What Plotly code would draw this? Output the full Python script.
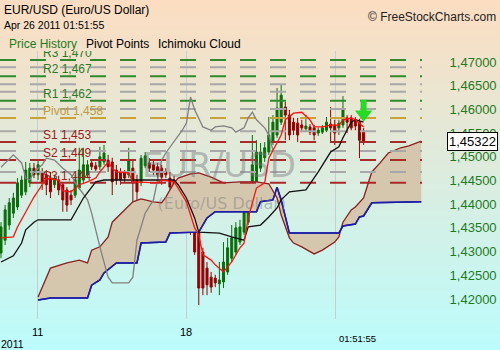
import plotly.graph_objects as go

# ---------------- data ----------------
bar = list(range(89))
opens = [1.4297,1.4324,1.4356,1.4381,1.4394,1.4419,1.4426,1.4445,1.4476,1.4462,
         1.4468,1.4462,1.4455,1.4441,1.4451,1.4441,1.4430,1.4419,1.4419,1.4434,
         1.4451,1.4462,1.4487,1.4481,1.4479,1.4489,1.4493,1.4489,1.4472,1.4468,
         1.4466,1.4462,1.4476,1.4451,1.4445,1.4481,1.4487,1.4483,1.4479,1.4476,
         1.4468,1.4455,1.4451,1.4445,1.4424,1.4413,1.4394,1.4377,1.4341,1.4299,
         1.4265,1.4246,1.4244,1.4232,1.4236,1.4257,1.4286,1.4299,1.4320,1.4341,
         1.4362,1.4405,1.4441,1.4476,1.4498,1.4510,1.4531,1.4546,1.4573,1.4605,
         1.4588,1.4573,1.4571,1.4567,1.4559,1.4563,1.4561,1.4550,1.4552,1.4556,
         1.4569,1.4567,1.4561,1.4567,1.4582,1.4582,1.4578,1.4573,1.4554]
highs = [1.4362,1.4398,1.4413,1.4424,1.4455,1.4460,1.4489,1.4487,1.4487,1.4493,
         1.4476,1.4472,1.4468,1.4462,1.4460,1.4447,1.4436,1.4430,1.4462,1.4519,
         1.4519,1.4493,1.4493,1.4489,1.4521,1.4525,1.4504,1.4498,1.4483,1.4476,
         1.4472,1.4519,1.4493,1.4462,1.4504,1.4510,1.4497,1.4493,1.4487,1.4483,
         1.4476,1.4468,1.4460,1.4451,1.4434,1.4426,1.4409,1.4394,1.4350,1.4308,
         1.4278,1.4257,1.4251,1.4278,1.4320,1.4329,1.4356,1.4362,1.4367,1.4434,
         1.4441,1.4546,1.4535,1.4529,1.4531,1.4584,1.4588,1.4645,1.4652,1.4616,
         1.4599,1.4582,1.4582,1.4578,1.4588,1.4569,1.4567,1.4561,1.4567,1.4584,
         1.4605,1.4578,1.4578,1.4628,1.4588,1.4588,1.4584,1.4580,1.4561]
lows = [1.4286,1.4314,1.4346,1.4371,1.4388,1.4413,1.4419,1.4436,1.4455,1.4451,
        1.4430,1.4419,1.4413,1.4434,1.4419,1.4384,1.4384,1.4398,1.4413,1.4430,
        1.4445,1.4455,1.4472,1.4468,1.4472,1.4483,1.4468,1.4419,1.4441,1.4441,
        1.4447,1.4455,1.4388,1.4371,1.4438,1.4476,1.4468,1.4462,1.4455,1.4441,
        1.4455,1.4426,1.4415,1.4409,1.4352,1.4346,1.4335,1.4293,1.4187,1.4208,
        1.4208,1.4213,1.4225,1.4208,1.4223,1.4251,1.4278,1.4293,1.4314,1.4335,
        1.4356,1.4398,1.4434,1.4468,1.4489,1.4504,1.4525,1.4540,1.4567,1.4535,
        1.4535,1.4546,1.4531,1.4552,1.4552,1.4546,1.4535,1.4544,1.4548,1.4552,
        1.4531,1.4525,1.4546,1.4561,1.4550,1.4556,1.4556,1.4497,1.4525]
closes = [1.4352,1.4388,1.4403,1.4413,1.4445,1.4451,1.4472,1.4476,1.4462,1.4483,
          1.4447,1.4441,1.4426,1.4455,1.4430,1.4409,1.4398,1.4409,1.4451,1.4472,
          1.4483,1.4483,1.4479,1.4474,1.4500,1.4508,1.4479,1.4447,1.4451,1.4451,
          1.4455,1.4493,1.4445,1.4426,1.4497,1.4502,1.4476,1.4472,1.4462,1.4457,
          1.4462,1.4436,1.4424,1.4415,1.4384,1.4381,1.4341,1.4299,1.4223,1.4223,
          1.4230,1.4225,1.4234,1.4240,1.4278,1.4308,1.4329,1.4350,1.4352,1.4413,
          1.4413,1.4483,1.4510,1.4510,1.4519,1.4546,1.4573,1.4603,1.4630,1.4588,
          1.4546,1.4556,1.4546,1.4561,1.4565,1.4552,1.4546,1.4556,1.4561,1.4573,
          1.4561,1.4550,1.4571,1.4599,1.4573,1.4561,1.4565,1.4535,1.45322]

# Ichimoku lines (bar index, price)
tenkan_x = [0,3,4,6,8,10,11,14,15,17,19,21,23,24,26,27,28,31,32,38,39,42,43,45,47,48,49,51,52,54,
            56,58,59,60,62,64,65,68,69,71,73,75,76,78,80,82,83,85,86,88]
tenkan_y = [1.4329,1.4331,1.4352,1.4384,1.4415,1.4441,1.4455,1.4451,1.4428,1.4426,1.4441,1.4447,
            1.4455,1.4468,1.4489,1.4476,1.4468,1.4466,1.4447,1.4445,1.4451,1.4447,1.4434,1.4405,
            1.4350,1.4335,1.4293,1.4282,1.4272,1.4257,1.4278,1.4308,1.4318,1.4371,1.4434,1.4445,
            1.4497,1.4546,1.4578,1.4592,1.4594,1.4578,1.4563,1.4563,1.4567,1.4567,1.4578,1.4582,
            1.4578,1.4563]
kijun_x = [0,3,5,6,8,9,17,19,20,23,25,42,43,45,47,48,53,56,59,60,63,65,67,68,70,74,77,80,82,83,85,86,88]
kijun_y = [1.4278,1.4291,1.4318,1.4346,1.4362,1.4367,1.4367,1.4398,1.4413,1.4447,1.4451,1.4451,
           1.4441,1.4413,1.4371,1.4341,1.4339,1.4331,1.4324,1.4352,1.4356,1.4373,1.4392,1.4409,
           1.4426,1.4430,1.4468,1.4510,1.4521,1.4540,1.4573,1.4578,1.4573]
chikou_x = [0,3,5,6,7,8,10,11,13,15,17,18,21,22,24,26,27,31,32,33,35,37,38,39,40,42,44,45,46,47,
            48,49,51,52,54,56,57,59,60,61,62,64,65,66]
chikou_y = [1.4478,1.4504,1.4487,1.4455,1.4451,1.4468,1.4483,1.4497,1.4493,1.4476,1.4462,1.4445,
            1.4409,1.4381,1.4310,1.4246,1.4234,1.4234,1.4246,1.4324,1.4381,1.4409,1.4451,1.4493,
            1.4508,1.4531,1.4556,1.4571,1.4626,1.4599,1.4582,1.4563,1.4556,1.4563,1.4565,1.4561,
            1.4552,1.4561,1.4582,1.4594,1.4578,1.4561,1.4546,1.4514]
spanA_x = [9,12,16,19,21,22,24,26,27,30,32,34,37,39,40,42,43,46,48,51,54,58,62,65,67,68,70,71,73,
           76,78,81,82,83,85,86,88,89,90,92,94,97,99,102]
spanA_y = [1.4204,1.4265,1.4276,1.4282,1.4276,1.4303,1.4310,1.4331,1.4362,1.4388,1.4405,1.4411,
           1.4405,1.4403,1.4415,1.4445,1.4455,1.4464,1.4466,1.4457,1.4445,1.4447,1.4447,1.4443,
           1.4413,1.4377,1.4329,1.4318,1.4310,1.4295,1.4303,1.4320,1.4331,1.4362,1.4388,1.4394,
           1.4413,1.4441,1.4468,1.4487,1.4508,1.4519,1.4523,1.4533]
spanB_x = [9,12,21,22,24,25,28,33,34,40,41,48,50,52,62,63,66,67,68,70,82,83,86,87,88,90,102]
spanB_y = [1.4198,1.4202,1.4202,1.4229,1.4240,1.4255,1.4276,1.4276,1.4318,1.4320,1.4339,1.4341,
           1.4371,1.4384,1.4384,1.4405,1.4409,1.4436,1.4409,1.4339,1.4339,1.4354,1.4358,1.4373,
           1.4375,1.4403,1.4405]

# pivot points
pivot_names = ["R3", "R2", "R1", "Pivot", "S1", "S2", "S3"]
pivot_vals = [1.4704, 1.4670, 1.4618, 1.4582, 1.4531, 1.4493, 1.4445]
pivot_text = ["1,470", "1,467", "1,462", "1,458", "1,453", "1,449", "1,444"]
mid_levels = [1.4689, 1.4653, 1.4637, 1.4601, 1.4554, 1.4512, 1.4468]

# axes
y_ticks = [1.42, 1.425, 1.43, 1.435, 1.44, 1.445, 1.45, 1.455, 1.46, 1.465, 1.47]
y_ticktext = ["1,42000", "1,42500", "1,43000", "1,43500", "1,44000", "1,44500",
              "1,45000", "1,45500", "1,46000", "1,46500", "1,47000"]
day_pos = [8.75, 44.9]
day_labels = ["11", "18"]
now_pos = 81.3
now_label = "01:51:55"
year_label = "2011"
last_price = 1.45322
last_text = "1,45322"
signal_bar = 88
signal_head = 1.4590
signal_stem = 1.4607

# ---------------- layout constants ----------------
W, H = 500, 350
ML, MR, MT, MB = 0, 78, 51, 31
PW, PH = W - ML - MR, H - MT - MB
X_RANGE = [-0.2427, 102.18]
Y_RANGE = [1.41577, 1.47232]
FONT = "Liberation Sans, Arial, sans-serif"

def px_x(p):
    return (p - ML) / PW

def px_y(p):
    return (H - MB - p) / PH

GREEN = "#0a6e0a"
RED = "#960000"

fig = go.Figure()

# background gradient strips (peach -> cyan)
shapes = []
n = 70
top = (252, 221, 193)
bot = (188, 252, 252)
for k in range(n):
    t = (k + 0.5) / n
    c = tuple(round(top[j] + (bot[j] - top[j]) * t) for j in range(3))
    y0 = H * k / n
    y1 = H * (k + 1) / n + 0.6
    shapes.append(dict(type="rect", xref="paper", yref="paper", layer="below",
                       x0=px_x(-2), x1=px_x(W + 2), y0=px_y(y1), y1=px_y(y0),
                       line=dict(width=0), fillcolor="rgb(%d,%d,%d)" % c))

# cloud
fig.add_trace(go.Scatter(x=spanB_x, y=spanB_y, mode="lines",
                         line=dict(color="#1c1ca6", width=1.5), hoverinfo="skip"))
fig.add_trace(go.Scatter(x=spanA_x, y=spanA_y, mode="lines", fill="tonexty",
                         fillcolor="rgb(212,199,174)",
                         line=dict(color="#8e1e1e", width=1.3), hoverinfo="skip"))
# redraw span B line on top of fill
fig.add_trace(go.Scatter(x=spanB_x, y=spanB_y, mode="lines",
                         line=dict(color="#1c1ca6", width=1.5), hoverinfo="skip"))

# pivot dashed lines
for lv in mid_levels:
    fig.add_trace(go.Scatter(x=X_RANGE, y=[lv, lv], mode="lines",
                             line=dict(color="#a8a8a8", width=2, dash="16px,14px"),
                             hoverinfo="skip"))
pcolors = []
for name in pivot_names:
    if name.startswith("R"):
        pcolors.append("#2f8a2f")
    elif name.startswith("S"):
        pcolors.append("#a82a2a")
    else:
        pcolors.append("#c9a23c")
for lv, col in zip(pivot_vals, pcolors):
    fig.add_trace(go.Scatter(x=X_RANGE, y=[lv, lv], mode="lines",
                             line=dict(color=col, width=2, dash="16px,14px"),
                             hoverinfo="skip"))
label_col = {"R": "#2a7a2a", "S": "#9a2020", "P": "#c09a40"}
for name, lv, txt in zip(pivot_names, pivot_vals, pivot_text):
    fig.add_trace(go.Scatter(x=[10.2], y=[lv], mode="text", text=["%s %s" % (name, txt)],
                             textposition="top right", cliponaxis=True,
                             textfont=dict(family=FONT, size=12, color=label_col[name[0]]),
                             hoverinfo="skip"))

# watermark
fig.add_trace(go.Scatter(x=[52.9], y=[1.4476], mode="text", text=["EUR/USD"],
                         textfont=dict(family="DejaVu Sans", size=34,
                                       color="rgba(120,120,120,0.45)"),
                         hoverinfo="skip"))
fig.add_trace(go.Scatter(x=[53.6], y=[1.4398], mode="text", text=["(Euro/US Dollar)"],
                         textfont=dict(family="DejaVu Sans", size=16,
                                       color="rgba(120,120,120,0.45)"),
                         hoverinfo="skip"))

# candles
fig.add_trace(go.Candlestick(x=bar, open=opens, high=highs, low=lows, close=closes,
                             increasing=dict(line=dict(color=GREEN, width=1), fillcolor=GREEN),
                             decreasing=dict(line=dict(color=RED, width=1), fillcolor=RED),
                             whiskerwidth=0, hoverinfo="skip"))

# ichimoku lines
fig.add_trace(go.Scatter(x=chikou_x, y=chikou_y, mode="lines",
                         line=dict(color="#808080", width=1.3), hoverinfo="skip"))
fig.add_trace(go.Scatter(x=kijun_x, y=kijun_y, mode="lines",
                         line=dict(color="#111111", width=1.3), hoverinfo="skip"))
fig.add_trace(go.Scatter(x=tenkan_x, y=tenkan_y, mode="lines",
                         line=dict(color="#ff1010", width=1.3), hoverinfo="skip"))

# signal arrow
fig.add_trace(go.Scatter(x=[signal_bar], y=[signal_stem], mode="markers",
                         marker=dict(symbol="line-ns", size=9, line=dict(color="#22dd22", width=6)),
                         hoverinfo="skip"))
fig.add_trace(go.Scatter(x=[signal_bar], y=[signal_head], mode="markers",
                         marker=dict(symbol="triangle-down", size=15, color="#22dd22",
                                     line=dict(width=0)),
                         hoverinfo="skip"))

ann = []
def text_ann(x, y, s, size=12, color="#000", xanchor="left", family=FONT):
    ann.append(dict(xref="paper", yref="paper", x=px_x(x), y=px_y(y), text=s,
                    showarrow=False, xanchor=xanchor, yanchor="middle",
                    font=dict(family=family, size=size, color=color)))

text_ann(2, 10, "EUR/USD (Euro/US Dollar)", 12)
text_ann(2, 25, "Apr 26 2011 01:51:55", 10.5)
text_ann(7, 44, "Price History", 12, "#1f7a1f")
text_ann(84, 44, "Pivot Points", 12)
text_ann(156, 44, "Ichimoku Cloud", 12)
text_ann(498, 17, "© FreeStockCharts.com", 12, "#222", xanchor="right")
text_ann(-1, 344, year_label, 10.5)
for p, lab in zip(day_pos, day_labels):
    ann.append(dict(xref="x", yref="paper", x=p, y=px_y(332), text=lab, showarrow=False,
                    xanchor="center", yanchor="middle",
                    font=dict(family=FONT, size=11, color="#000")))
ann.append(dict(xref="x", yref="paper", x=now_pos, y=px_y(338), text=now_label,
                showarrow=False, xanchor="left", yanchor="middle", xshift=1,
                font=dict(family=FONT, size=9.5, color="#000")))
ann.append(dict(xref="paper", yref="y", x=px_x(447), y=last_price, text=last_text,
                showarrow=False, xanchor="left", yanchor="middle",
                bgcolor="white", bordercolor="#000", borderwidth=1, borderpad=1,
                font=dict(family=FONT, size=13, color="#000")))

fig.update_layout(
    width=W, height=H, margin=dict(l=ML, r=MR, t=MT, b=MB, pad=0),
    paper_bgcolor="rgb(220,236,222)", plot_bgcolor="rgba(0,0,0,0)",
    showlegend=False, shapes=shapes, annotations=ann,
    xaxis=dict(range=X_RANGE, tickvals=day_pos + [now_pos], showticklabels=False,
               showgrid=True, gridcolor="#c3d0d0", gridwidth=1, zeroline=False,
               showline=False, ticks="", rangeslider=dict(visible=False), fixedrange=True),
    yaxis=dict(range=Y_RANGE, side="right", tickvals=y_ticks, ticktext=y_ticktext,
               showgrid=False, zeroline=False, showline=False, ticks="outside",
               ticklen=24, tickcolor="rgba(0,0,0,0)",
               tickfont=dict(family=FONT, size=13, color="#1f7a1f"), fixedrange=True),
)

fig.write_html("out.html")
